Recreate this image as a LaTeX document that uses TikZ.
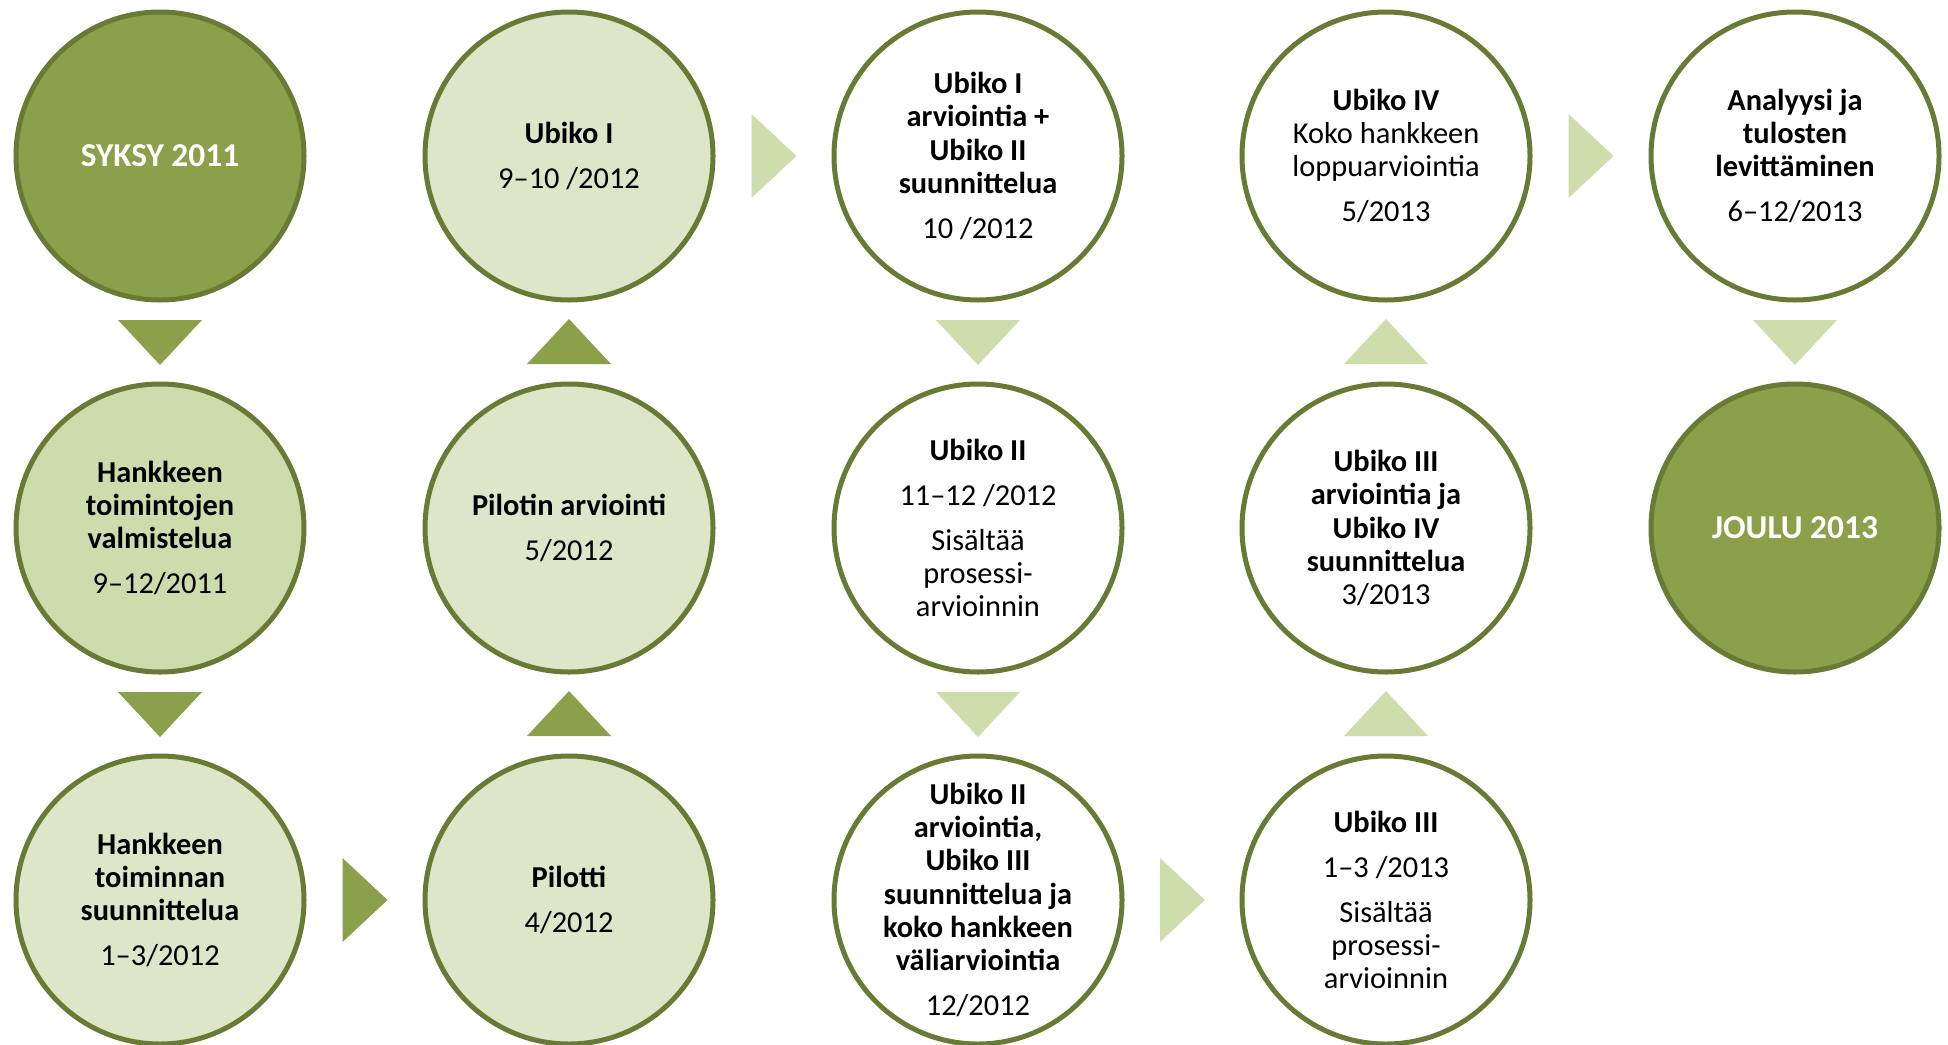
\documentclass[tikz,border=0pt]{standalone}
\usepackage{fontspec}
\setmainfont{Carlito}
\usetikzlibrary{calc}
\definecolor{oliveDark}{RGB}{138,160,74}
\definecolor{oliveMid}{RGB}{205,220,172}
\definecolor{oliveLight}{RGB}{222,230,201}
\definecolor{olivePale}{RGB}{205,221,172}
\definecolor{oliveLine}{RGB}{103,123,52}

\begin{document}
\begin{tikzpicture}[x=0.5pt,y=-0.5pt,
    phase/.style={circle,draw=oliveLine,line width=2.5pt,fill=white,
        minimum size=144pt,inner sep=-10pt,align=center,
        font=\fontsize{15.2}{16.6}\selectfont},
    season/.style={phase,fill=oliveDark,text=white,font=\fontsize{16.7}{18}\selectfont\bfseries}]
    \useasboundingbox (0,0) rectangle (1948,1044);

    \node[season] (syksy) at (160,156) {SYKSY 2011};
    \node[phase,fill=oliveMid] (valm) at (160,528)
        {\textbf{Hankkeen}\\\textbf{toimintojen}\\\textbf{valmistelua}\\[6pt]9–12/2011};
    \node[phase,fill=oliveLight] (suun) at (160,900)
        {\textbf{Hankkeen}\\\textbf{toiminnan}\\\textbf{suunnittelua}\\[6pt]1–3/2012};

    \node[phase,fill=oliveLight] (pilotti) at (569,900) {\textbf{Pilotti}\\[6pt]4/2012};
    \node[phase,fill=oliveLight] (piloarv) at (569,528) {\textbf{Pilotin arviointi}\\[6pt]5/2012};
    \node[phase,fill=oliveLight] (ubiko1) at (569,156) {\textbf{Ubiko I}\\[6pt]9–10 /2012};

    \node[phase] (ub1arv) at (978,156)
        {\textbf{Ubiko I}\\\textbf{arviointia +}\\\textbf{Ubiko II}\\\textbf{suunnittelua}\\[6pt]10 /2012};
    \node[phase] (ub2) at (978,528)
        {\textbf{Ubiko II}\\[6pt]11–12 /2012\\[6pt]Sisältää\\prosessi-\\arvioinnin};
    \node[phase] (ub2arv) at (978,900)
        {\textbf{Ubiko II}\\\textbf{arviointia,}\\\textbf{Ubiko III}\\\textbf{suunnittelua ja}\\\textbf{koko hankkeen}\\\textbf{väliarviointia}\\[6pt]12/2012};

    \node[phase] (ub3) at (1386,900)
        {\textbf{Ubiko III}\\[6pt]1–3 /2013\\[6pt]Sisältää\\prosessi-\\arvioinnin};
    \node[phase] (ub3arv) at (1386,528)
        {\textbf{Ubiko III}\\\textbf{arviointia ja}\\\textbf{Ubiko IV}\\\textbf{suunnittelua}\\3/2013};
    \node[phase] (ub4) at (1386,156)
        {\textbf{Ubiko IV}\\Koko hankkeen\\loppuarviointia\\[6pt]5/2013};

    \node[phase] (analyysi) at (1795,156)
        {\textbf{Analyysi ja}\\\textbf{tulosten}\\\textbf{levittäminen}\\[6pt]6–12/2013};
    \node[season] (joulu) at (1795,528) {JOULU 2013};

    \foreach \a/\b/\c in {syksy/valm/oliveDark,valm/suun/oliveDark,
            ub1arv/ub2/olivePale,ub2/ub2arv/olivePale,analyysi/joulu/olivePale}
        \fill[\c,shift={($(\a)!0.5!(\b)$)}] (-42,-22) -- (42,-22) -- (0,23) -- cycle;
    \foreach \a/\b/\c in {pilotti/piloarv/oliveDark,piloarv/ubiko1/oliveDark,
            ub3/ub3arv/olivePale,ub3arv/ub4/olivePale}
        \fill[\c,shift={($(\a)!0.5!(\b)$)}] (-42,22) -- (42,22) -- (0,-23) -- cycle;
    \foreach \a/\b/\c in {suun/pilotti/oliveDark,ubiko1/ub1arv/olivePale,
            ub2arv/ub3/olivePale,ub4/analyysi/olivePale}
        \fill[\c,shift={($(\a)!0.5!(\b)$)}] (-22,-42) -- (-22,42) -- (23,0) -- cycle;
\end{tikzpicture}
\end{document}
